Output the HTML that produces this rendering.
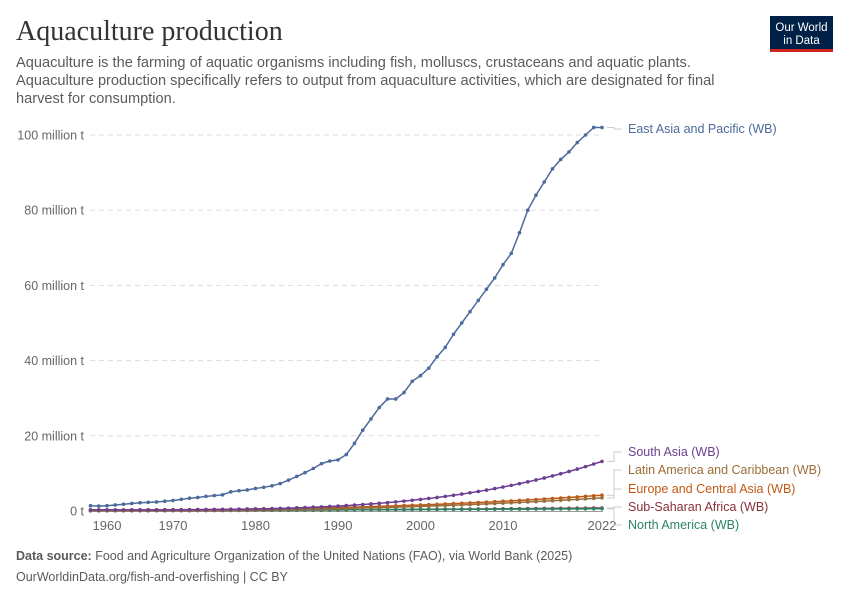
<!DOCTYPE html>
<html><head><meta charset="utf-8"><style>
body{margin:0;background:#fff;width:850px;height:600px;overflow:hidden;font-family:"Liberation Sans",sans-serif}
</style></head><body>
<svg id="s" width="850" height="600" xmlns="http://www.w3.org/2000/svg" font-family="Liberation Sans, sans-serif">
<text x="16" y="40" font-family="Liberation Serif, serif" font-size="28" fill="#333">Aquaculture production</text>
<text font-size="14.6" fill="#5b5b5b"><tspan x="16" y="67">Aquaculture is the farming of aquatic organisms including fish, molluscs, crustaceans and aquatic plants.</tspan><tspan x="16" y="85">Aquaculture production specifically refers to output from aquaculture activities, which are designated for final</tspan><tspan x="16" y="103">harvest for consumption.</tspan></text>
<rect x="770" y="16" width="63" height="36" fill="#002147"/><rect x="770" y="49" width="63" height="3" fill="#ce261e"/>
<text x="801.5" y="31" font-size="11.5" fill="#fff" text-anchor="middle">Our World</text>
<text x="801.5" y="44" font-size="11.5" fill="#fff" text-anchor="middle">in Data</text>
<g id="grid" font-size="12.5" fill="#666"></g>
<g id="series"></g>
<text font-size="12.5" fill="#5b5b5b" y="560"><tspan x="16" font-weight="bold">Data source:</tspan> Food and Agriculture Organization of the United Nations (FAO), via World Bank (2025)</text>
<text x="16" y="581" font-size="12.5" fill="#5b5b5b">OurWorldinData.org/fish-and-overfishing | CC BY</text>
</svg>
<script>
const NS="http://www.w3.org/2000/svg";
function el(p,t,a,txt){const e=document.createElementNS(NS,t);for(const k in a)e.setAttribute(k,a[k]);if(txt!=null)e.textContent=txt;p.appendChild(e);return e;}
const X=y=>90.5+(y-1960)*8.25, Y=v=>511-v*3.76;
const g=document.getElementById('grid');
[0,20,40,60,80,100].forEach(v=>{
 if(v>0)el(g,'line',{x1:90,x2:603,y1:Y(v),y2:Y(v),stroke:'#ddd','stroke-dasharray':'5,4'});
 el(g,'text',{x:84,y:Y(v)+4.5,'text-anchor':'end'},v?v+' million t':'0 t');
});
[[1960,'start'],[1970],[1980],[1990],[2000],[2010],[2022]].forEach(([y,a])=>{
 el(g,'text',{x:a?X(y)+2:X(y),y:530,'text-anchor':a||'middle','font-size':'13'},y);
});
el(g,'line',{x1:90,x2:603,y1:511.5,y2:511.5,stroke:'#999'});
const ea=[1.4,1.3,1.4,1.6,1.8,2.0,2.2,2.3,2.4,2.6,2.8,3.1,3.4,3.6,3.9,4.1,4.3,5.1,5.4,5.6,6.0,6.3,6.7,7.3,8.2,9.2,10.2,11.3,12.6,13.3,13.6,15,18,21.5,24.5,27.5,29.8,29.8,31.5,34.5,36,38,41,43.5,47,50,53,56,59,62,65.5,68.5,74,80,84,87.5,91,93.5,95.5,98,100,102,102];
function gen(a,b,p){const r=[];for(let i=0;i<63;i++)r.push(a+(b-a)*Math.pow(i/62,p));return r;}
const S=[
 ['#4c6a9c',ea],
 ['#6d3e91',gen(0.3,13.2,3.5)],
 ['#996d39',gen(0.1,3.5,2.5)],
 ['#c05917',gen(0.3,4.2,2.5)],
 ['#2c8465',gen(0.1,0.6,1.2)],
 ['#883039',gen(0.05,0.8,1.5)]
];
const sg=document.getElementById('series');
S.slice().reverse().forEach(([c,d])=>{
 el(sg,'polyline',{points:d.map((v,i)=>X(1960+i)+','+Y(v)).join(' '),fill:'none',stroke:c,'stroke-width':1.5});
 d.forEach((v,i)=>el(sg,'circle',{cx:X(1960+i),cy:Y(v),r:1.8,fill:c}));
});
const L=[['East Asia and Pacific (WB)','#4c6a9c',102,133],['South Asia (WB)','#6d3e91',13.2,456],['Latin America and Caribbean (WB)','#996d39',3.5,474],['Europe and Central Asia (WB)','#c05917',4.2,493],['Sub-Saharan Africa (WB)','#883039',0.8,511],['North America (WB)','#2c8465',0.6,529]];
L.forEach(([t,c,v,ly])=>{
 const y0=Y(v);
 el(sg,'path',{d:`M607,${y0} H614 V${ly-4} H622`,fill:'none',stroke:'#ccc'});
 el(sg,'text',{x:628,y:ly,'font-size':'12.5',fill:c},t);
});
</script>
</body></html>
